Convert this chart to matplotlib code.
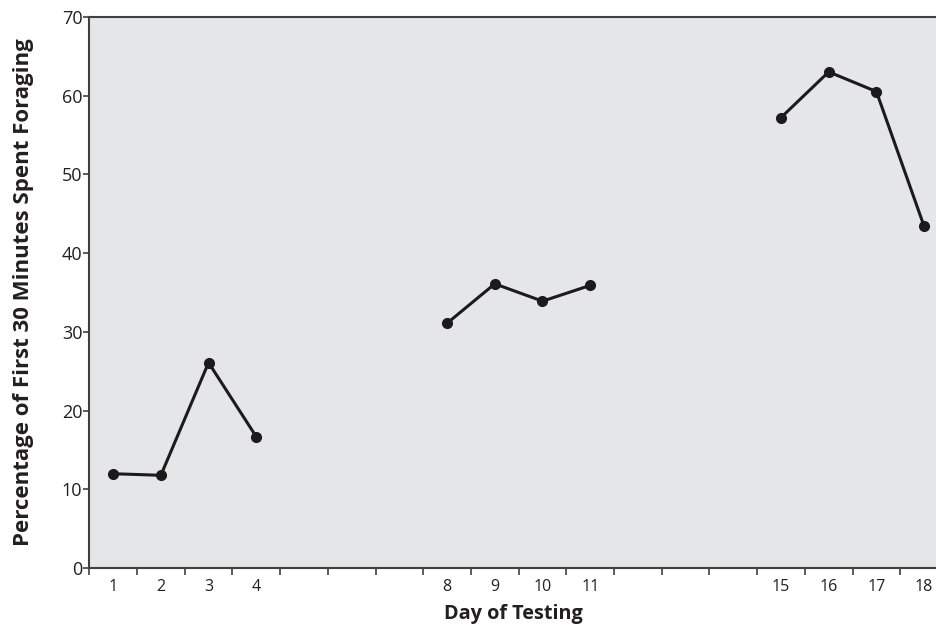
import numpy as np
import matplotlib
matplotlib.use("Agg")
from matplotlib import pyplot as plt

# three testing blocks, plotted as separate line segments
days_block1 = [1, 2, 3, 4]
pct_block1 = [12.0, 11.8, 26.1, 16.7]
days_block2 = [8, 9, 10, 11]
pct_block2 = [31.1, 36.1, 33.9, 35.9]
days_block3 = [15, 16, 17, 18]
pct_block3 = [57.2, 63.0, 60.5, 43.4]

tick_days = days_block1 + days_block2 + days_block3
y_ticks = [0, 10, 20, 30, 40, 50, 60, 70]

plt.rcParams['font.family'] = ['Open Sans', 'DejaVu Sans']

fig = plt.figure(figsize=(9.37, 6.31), dpi=100)
ax = fig.add_axes([0.0953, 0.0994, 0.9047, 0.8741])
ax.set_facecolor('#e5e6e8')

for d, p in [(days_block1, pct_block1), (days_block2, pct_block2), (days_block3, pct_block3)]:
    ax.plot(d, p, color='#1c1a1b', linewidth=2.2, marker='o', markersize=7, solid_capstyle='round')

ax.set_xlim(0.5, 18.27)
ax.set_ylim(0, 70)

# tick marks sit between days, labels sit on the days
ax.set_xticks(np.arange(0.5, 18.0, 1.0))
ax.set_xticklabels([])
ax.set_xticks(tick_days, minor=True)
ax.set_xticklabels([str(d) for d in tick_days], minor=True, fontsize=11.5, color='#231f20')
ax.tick_params(axis='x', which='major', direction='out', length=5, width=1.2, color='#404040')
ax.tick_params(axis='x', which='minor', length=0, pad=8)

ax.set_yticks(y_ticks)
ax.set_yticklabels([str(v) for v in y_ticks], fontsize=13, color='#231f20')
ax.tick_params(axis='y', direction='out', length=4, width=1.2, color='#404040', pad=1)

for side in ['left', 'bottom', 'top']:
    ax.spines[side].set_color('#404040')
    ax.spines[side].set_linewidth(1.5)
ax.spines['right'].set_visible(False)

ax.set_xlabel('Day of Testing', fontsize=14.3, fontweight='bold', color='#231f20', labelpad=6)
ax.set_ylabel('Percentage of First 30 Minutes Spent Foraging', fontsize=16, fontweight='bold',
              color='#231f20', labelpad=20)

fig.savefig('out.png', dpi=100)
